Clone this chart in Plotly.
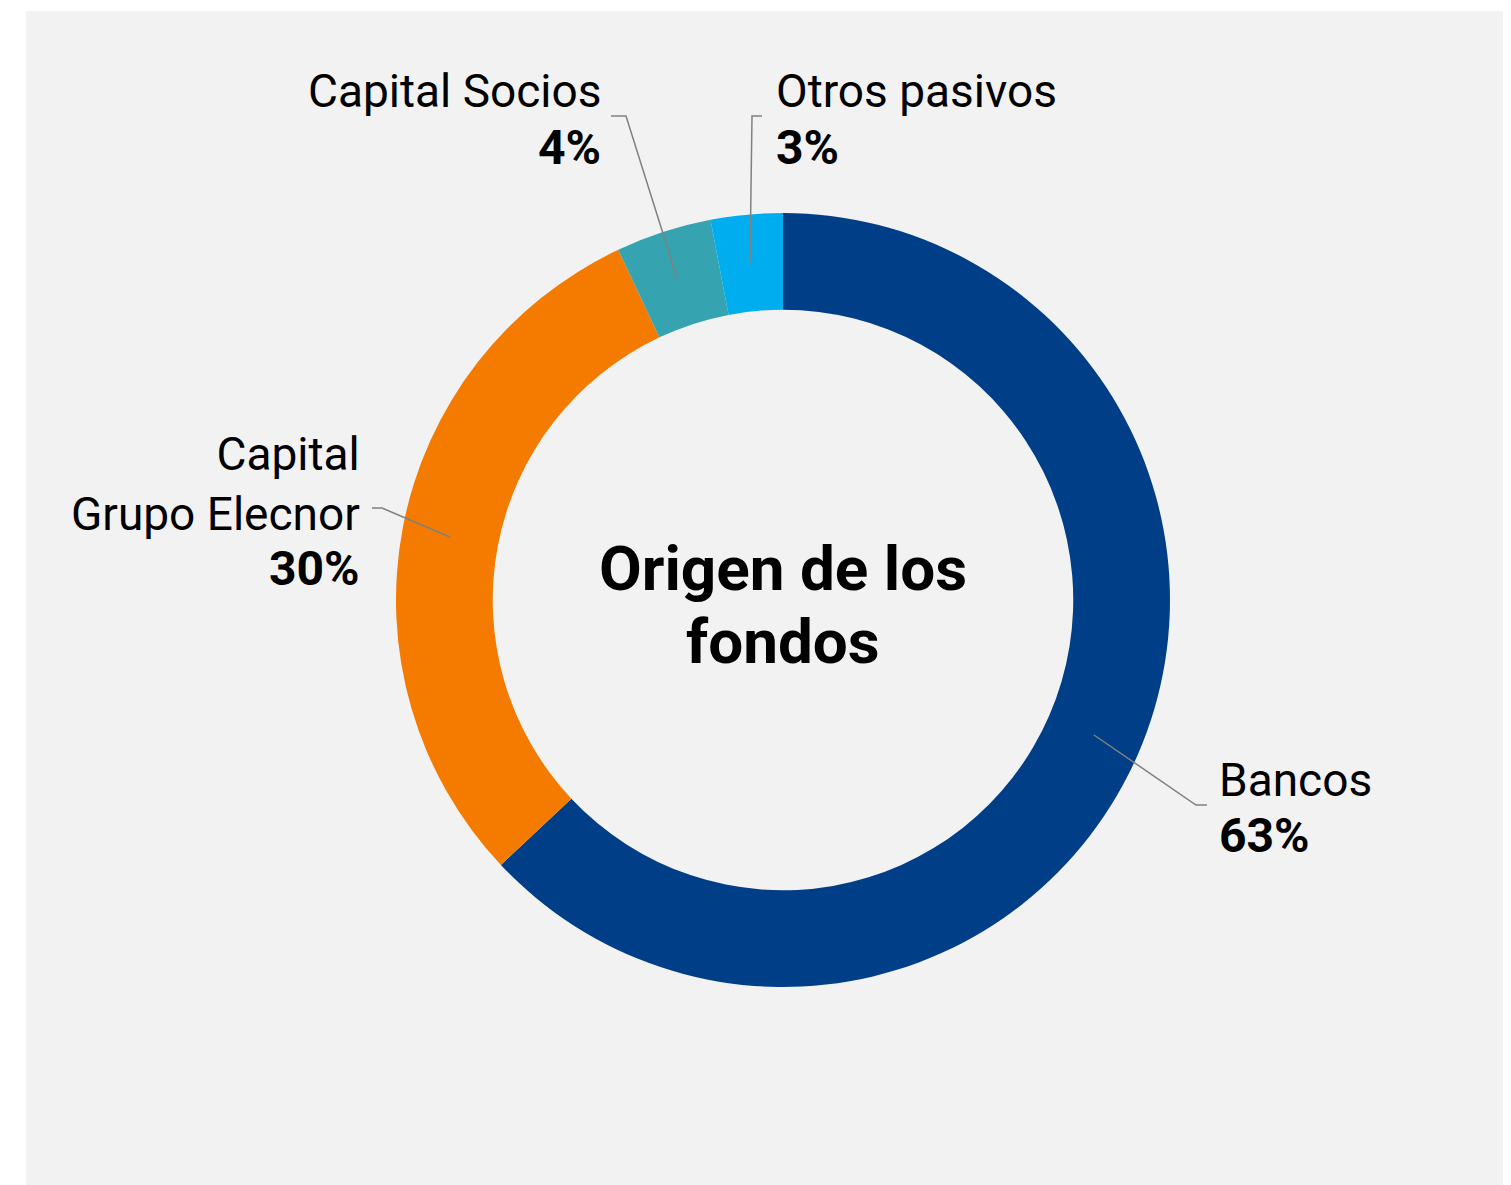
import plotly.graph_objects as go

# Origen de los fondos
categorias = ["Bancos", "Capital<br>Grupo Elecnor", "Capital Socios", "Otros pasivos"]
valores = [63, 30, 4, 3]
colores = ["#003e87", "#f47b00", "#36a4b0", "#00aeef"]

OFF = 8  # margen del body en la pagina
W, H = 1511, 1185 - OFF
FUENTE = "Roboto"


def px_x(x):
    return (x - OFF) / W


def px_y(y):
    return 1 - (y - OFF) / H


total = sum(valores)
porcentajes = [f"{v / total * 100:.0f}%" for v in valores]

fig = go.Figure(
    go.Pie(
        labels=categorias,
        values=valores,
        hole=0.75,
        sort=False,
        direction="clockwise",
        rotation=0,
        marker=dict(colors=colores, line=dict(width=0)),
        textinfo="none",
        hoverinfo="label+percent",
        domain=dict(x=[px_x(396), px_x(1170)], y=[px_y(987), px_y(213)]),
        showlegend=False,
    )
)

# posiciones de las etiquetas (nombre, porcentaje) en pixeles
etiquetas = [
    # x, y nombre, y porcentaje, anclaje
    (1217, 780, 836, "left"),
    (362, 484, 568, "right"),
    (603, 91, 147, "right"),
    (774, 91, 147, "left"),
]

anotaciones = []
for cat, pct, (x, yn, yp, anc) in zip(categorias, porcentajes, etiquetas):
    anotaciones.append(dict(
        x=px_x(x), y=px_y(yn), xref="paper", yref="paper",
        text=cat, showarrow=False, xanchor=anc, yanchor="middle", align=anc,
        font=dict(family=FUENTE, size=46, color="#000000"),
    ))
    anotaciones.append(dict(
        x=px_x(x), y=px_y(yp), xref="paper", yref="paper",
        text=f"<b>{pct}</b>", showarrow=False, xanchor=anc, yanchor="middle",
        font=dict(family=FUENTE, size=48, color="#000000"),
    ))

# titulo central
for texto, y in [("Origen de los", 569), ("fondos", 641)]:
    anotaciones.append(dict(
        x=px_x(783), y=px_y(y), xref="paper", yref="paper",
        text=f"<b>{texto}</b>", showarrow=False, xanchor="center", yanchor="middle",
        font=dict(family=FUENTE, size=62, color="#000000"),
    ))

# lineas guia
guias = [
    [(1207, 805), (1196, 805), (1094, 735)],
    [(372, 508), (382, 508), (450, 537)],
    [(611, 116), (626, 116), (677, 278)],
    [(762, 116), (752, 116), (750, 263)],
]
formas = [dict(
    type="rect", xref="paper", yref="paper",
    x0=px_x(26), x1=1.02, y0=-0.02, y1=px_y(11),
    fillcolor="#f2f2f2", line=dict(width=0), layer="below",
)]
for pts in guias:
    path = "M " + " L ".join(f"{px_x(x)},{px_y(y)}" for x, y in pts)
    formas.append(dict(
        type="path", xref="paper", yref="paper", path=path,
        line=dict(color="#808080", width=1.5), layer="above",
    ))

fig.update_layout(
    width=W, height=H,
    margin=dict(l=0, r=0, t=0, b=0),
    paper_bgcolor="#ffffff",
    plot_bgcolor="#f2f2f2",
    annotations=anotaciones,
    shapes=formas,
)

fig.write_html("out.html")
